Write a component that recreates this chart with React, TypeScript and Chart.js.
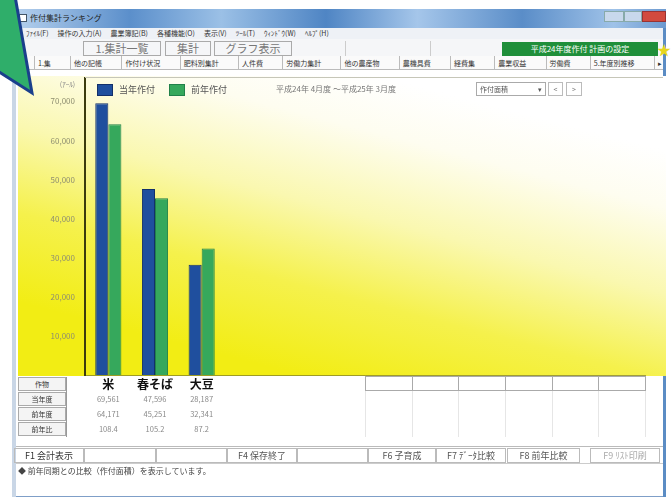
import React, { useEffect, useRef } from "react";
import { Chart, registerables } from "chart.js";

Chart.register(...registerables);

// ---- data ----
const categories = ["米", "春そば", "大豆", "", "", "", "", "", "", "", "", ""];
const seriesNames = ["当年作付", "前年作付"];
const currentYear = [69561, 47596, 28187, null, null, null, null, null, null, null, null, null];
const previousYear = [64171, 45251, 32341, null, null, null, null, null, null, null, null, null];
const ratioLabels = ["108.4", "105.2", "87.2"];
const rowLabels = ["作物", "当年度", "前年度", "前年比"];
const yTickValues = [10000, 20000, 30000, 40000, 50000, 60000, 70000];
const yMax = 76000;

const menuItems = ["ﾌｧｲﾙ(F)", "操作の入力(A)", "農業簿記(B)", "各種機能(O)", "表示(V)", "ﾂｰﾙ(T)", "ｳｨﾝﾄﾞｳ(W)", "ﾍﾙﾌﾟ(H)"];
const tabItems = ["1.集", "他の記帳", "作付け状況", "肥料別集計", "人件費", "労働力集計", "他の農産物", "農機具費", "経費集", "農業収益", "労働費", "5.年度別推移", "▸"];

const FONT = "'Noto Sans CJK JP', 'Noto Sans', sans-serif";
const BLUE = "#1f4f9e";
const GREEN = "#36a85c";

const fmt = (v: number | null) => (v == null ? "" : String(v).replace(/\B(?=(\d{3})+(?!\d))/g, ","));

const gradientPlugin = {
  id: "bgGradient",
  beforeDraw(chart: any) {
    const { ctx, chartArea, width } = chart;
    const bottom = chartArea.bottom + 1;
    const g = ctx.createLinearGradient(width * 0.56, 0, width * 0.44, bottom);
    g.addColorStop(0, "#ffffff");
    g.addColorStop(0.18, "#fefdf0");
    g.addColorStop(0.45, "#faf8b0");
    g.addColorStop(0.72, "#f5f14c");
    g.addColorStop(1, "#f2ed14");
    ctx.save();
    ctx.fillStyle = g;
    ctx.fillRect(0, 0, width, bottom);
    ctx.restore();
  },
};

const legendPlugin = {
  id: "inlineLegend",
  afterDraw(chart: any) {
    const { ctx, chartArea } = chart;
    ctx.save();
    ctx.font = `9px ${FONT}`;
    ctx.textBaseline = "middle";
    let x = chartArea.left + 12;
    const y = chartArea.top + 6;
    chart.data.datasets.forEach((ds: any) => {
      ctx.fillStyle = ds.backgroundColor;
      ctx.fillRect(x, y, 16, 12);
      ctx.strokeStyle = ds.borderColor;
      ctx.lineWidth = 1;
      ctx.strokeRect(x + 0.5, y + 0.5, 15, 11);
      ctx.fillStyle = "#555";
      ctx.textAlign = "left";
      ctx.fillText(ds.label, x + 22, y + 6);
      x += 22 + ctx.measureText(ds.label).width + 14;
    });
    ctx.restore();
  },
};

function ChartCanvas() {
  const ref = useRef<HTMLCanvasElement | null>(null);
  useEffect(() => {
    if (!ref.current) return;
    const chart = new Chart(ref.current, {
      type: "bar",
      data: {
        labels: categories,
        datasets: [
          {
            label: seriesNames[0],
            data: currentYear,
            backgroundColor: BLUE,
            borderColor: "#13306a",
            borderWidth: 1,
            barPercentage: 1,
            categoryPercentage: 0.56,
          },
          {
            label: seriesNames[1],
            data: previousYear,
            backgroundColor: GREEN,
            borderColor: "#22814a",
            borderWidth: 1,
            barPercentage: 1,
            categoryPercentage: 0.56,
          },
        ],
      },
      options: {
        animation: false,
        responsive: false,
        devicePixelRatio: 1,
        layout: { padding: { top: 2, right: 21, left: 0, bottom: 0 } },
        plugins: {
          tooltip: { enabled: false },
          legend: { display: false },
        },
        scales: {
          x: {
            grid: { display: false, drawTicks: false },
            border: { display: true, color: "rgba(90,90,50,0.55)", width: 1 },
            ticks: {
              color: "#111",
              padding: 2,
              autoSkip: false,
              maxRotation: 0,
              font: { family: FONT, size: 12, weight: "bold" },
            },
            afterFit: (s: any) => {
              s.height = 21;
              s.paddingLeft = 0;
              s.paddingRight = 0;
            },
          },
          y: {
            type: "linear",
            min: 0,
            max: yMax,
            grid: { display: false, drawTicks: false },
            border: { display: true, color: "#3b3b0e", width: 2 },
            afterBuildTicks: (s: any) => {
              s.ticks = yTickValues.map((v) => ({ value: v }));
            },
            ticks: {
              padding: 10,
              autoSkip: false,
              color: "#8e8e70",
              font: { family: FONT, size: 8 },
              callback: (v: any) => fmt(Number(v)),
            },
            afterFit: (s: any) => {
              s.width = 67;
              s.paddingTop = 0;
              s.paddingBottom = 0;
            },
          },
        },
      },
      plugins: [gradientPlugin, legendPlugin],
    } as any);
    return () => chart.destroy();
  }, []);
  return <canvas ref={ref} width={648} height={320} style={{ position: "absolute", left: 18, top: 76, width: 648, height: 320 }} />;
}

const abs = (left: number, top: number, width: number, height: number, extra: any = {}) => ({
  position: "absolute" as const,
  left,
  top,
  width,
  height,
  boxSizing: "border-box" as const,
  ...extra,
});

export default function App() {
  const colW = (645 - 85) / 12;
  return (
    <div style={{ position: "fixed", left: 0, top: 0, width: 672, height: 497, overflow: "hidden", background: "#ffffff", fontFamily: FONT, color: "#333" }}>
      {/* window frame */}
      <div style={abs(12, 9, 654, 488, { border: "1px solid #7f9fc8", borderTop: "none" })} />
      <div style={abs(12, 78, 4, 419, { background: "#c9d6e6" })} />
      <div style={abs(663, 9, 3, 488, { background: "#5b8cc4" })} />
      {/* title bar */}
      <div style={abs(12, 9, 654, 19, { background: "linear-gradient(90deg,#b8d2ee 0%,#5b8fcb 18%,#9bc0e6 32%,#4f85c4 48%,#a5c6ea 62%,#5a8dc8 78%,#9fc2e8 92%,#6d9ad0 100%)" })} />
      <div style={abs(19, 14, 8, 8, { background: "#fff", border: "1px solid #456" })} />
      <div style={abs(30, 12, 120, 12, { fontSize: 8, lineHeight: "12px", color: "#222", whiteSpace: "nowrap" })}>作付集計ランキング</div>
      <div style={abs(604, 11, 20, 11, { background: "#c8d8ec", border: "1px solid #8aa" })} />
      <div style={abs(624, 11, 18, 11, { background: "#c8d8ec", border: "1px solid #8aa" })} />
      <div style={abs(642, 11, 24, 11, { background: "#d24a3e", border: "1px solid #933" })} />
      {/* menu */}
      <div style={abs(16, 28, 647, 11, { background: "#eef1f6" })} />
      <div style={abs(26, 28, 400, 11, { fontSize: 7, lineHeight: "11px", color: "#333", whiteSpace: "nowrap", display: "flex", gap: 9 })}>
        {menuItems.map((m) => (
          <span key={m}>{m}</span>
        ))}
      </div>
      {/* toolbar */}
      <div style={abs(16, 39, 647, 17, { background: "#f5f6f8" })} />
      <div style={abs(83, 41, 78, 15, { border: "1px solid #aaa", fontSize: 11, lineHeight: "13px", color: "#777", textAlign: "center" })}>1.集計一覧</div>
      <div style={abs(165, 41, 46, 15, { border: "1px solid #aaa", fontSize: 11, lineHeight: "13px", color: "#777", textAlign: "center" })}>集計</div>
      <div style={abs(214, 41, 78, 15, { border: "1px solid #aaa", fontSize: 11, lineHeight: "13px", color: "#777", textAlign: "center" })}>グラフ表示</div>
      <div style={abs(345, 41, 1, 15, { background: "#ccc" })} />
      <div style={abs(430, 41, 1, 15, { background: "#ccc" })} />
      <div style={abs(502, 42, 156, 14, { background: "#1f8f3a", color: "#fff", fontSize: 8, lineHeight: "14px", textAlign: "center", whiteSpace: "nowrap" })}>平成24年度作付 計画の設定</div>
      <div style={abs(657, 41, 15, 16, { color: "#e6d61e", fontSize: 14, lineHeight: "16px" })}>★</div>
      {/* tabs */}
      <div style={abs(16, 56, 647, 14, { background: "#fafafa", borderBottom: "1px solid #bbb" })} />
      <div style={abs(34, 56, 628, 14, { display: "flex", justifyContent: "space-between", fontSize: 7, lineHeight: "14px", color: "#333", whiteSpace: "nowrap" })}>
        {tabItems.map((t, i) => (
          <span key={i} style={{ borderLeft: "1px solid #bbb", paddingLeft: 3 }}>{t}</span>
        ))}
      </div>

      {/* chart */}
      <ChartCanvas />
      <div style={abs(85, 77, 578, 1, { background: "#c6c6b8" })} />
      <div style={abs(30, 79, 45, 10, { fontSize: 7, lineHeight: "10px", color: "#888", textAlign: "right" })}>(ｱｰﾙ)</div>
      <div style={abs(276, 83, 190, 11, { fontSize: 8, lineHeight: "11px", color: "#777", whiteSpace: "nowrap" })}>平成24年 4月度 〜平成25年 3月度</div>
      <div style={abs(476, 82, 70, 14, { background: "#fff", border: "1px solid #aaa", fontSize: 7, lineHeight: "12px", color: "#555", paddingLeft: 3 })}>
        作付面積
        <span style={{ position: "absolute", right: 3, top: 0, fontSize: 7 }}>▾</span>
      </div>
      <div style={abs(548, 82, 15, 14, { background: "#fff", border: "1px solid #bbb", fontSize: 7, lineHeight: "12px", color: "#777", textAlign: "center" })}>&lt;</div>
      <div style={abs(566, 82, 16, 14, { background: "#fff", border: "1px solid #bbb", fontSize: 7, lineHeight: "12px", color: "#777", textAlign: "center" })}>&gt;</div>

      {/* table */}
      {rowLabels.map((r, i) => (
        <div key={r} style={abs(18, 377 + i * 15, 48, 14, { border: "1px solid #aaa", background: "#f4f4f4", fontSize: 7, lineHeight: "12px", textAlign: "center", color: "#333" })}>
          {r}
        </div>
      ))}
      <div style={abs(66, 377, 1, 60, { background: "#999" })} />
      {Array.from({ length: 6 }).map((_, i) => (
        <div key={i} style={abs(85 + (6 + i) * colW, 376, colW + 1, 15, { border: "1px solid #aaa", background: "#fff" })} />
      ))}
      {Array.from({ length: 7 }).map((_, i) => (
        <div key={"v" + i} style={abs(85 + (6 + i) * colW, 391, 1, 46, { background: "#e6e6e6" })} />
      ))}
      {[0, 1, 2].map((c) => (
        <React.Fragment key={c}>
          <div style={abs(85 + c * colW, 392, colW, 14, { fontSize: 7.5, lineHeight: "14px", textAlign: "center", color: "#888" })}>{fmt(currentYear[c])}</div>
          <div style={abs(85 + c * colW, 407, colW, 14, { fontSize: 7.5, lineHeight: "14px", textAlign: "center", color: "#888" })}>{fmt(previousYear[c])}</div>
          <div style={abs(85 + c * colW, 422, colW, 14, { fontSize: 7.5, lineHeight: "14px", textAlign: "center", color: "#888" })}>{ratioLabels[c]}</div>
        </React.Fragment>
      ))}

      {/* function keys */}
      <div style={abs(16, 446, 647, 1, { background: "#bbb" })} />
      <div style={abs(16, 463, 647, 1, { background: "#ccc" })} />
      {[
        [14, 70, "F1 会計表示", "#333"],
        [84, 72, "", "#333"],
        [156, 71, "", "#333"],
        [227, 70, "F4 保存終了", "#555"],
        [297, 71, "", "#333"],
        [368, 68, "F6 子育成", "#555"],
        [436, 70, "F7 ﾃﾞｰﾀ比較", "#555"],
        [507, 73, "F8 前年比較", "#555"],
        [590, 70, "F9 ﾘｽﾄ印刷", "#aaa"],
      ].map(([x, w, t, c]: any, i) => (
        <div key={i} style={abs(x, 448, w, 15, { border: "1px solid #bbb", fontSize: 9, lineHeight: "13px", color: c, textAlign: "center", whiteSpace: "nowrap" })}>
          {t}
        </div>
      ))}
      <div style={abs(18, 465, 400, 12, { fontSize: 8, lineHeight: "12px", color: "#444", whiteSpace: "nowrap" })}>◆ 前年同期との比較（作付面積）を表示しています。</div>

      {/* callout arrow */}
      <svg width={60} height={100} style={{ position: "absolute", left: 0, top: 0 }}>
        <polygon points="-4,-4 15,-4 32,93 -4,70" fill="#2fae6a" stroke="#1a3f8c" strokeWidth={3} strokeLinejoin="miter" />
      </svg>
    </div>
  );
}
